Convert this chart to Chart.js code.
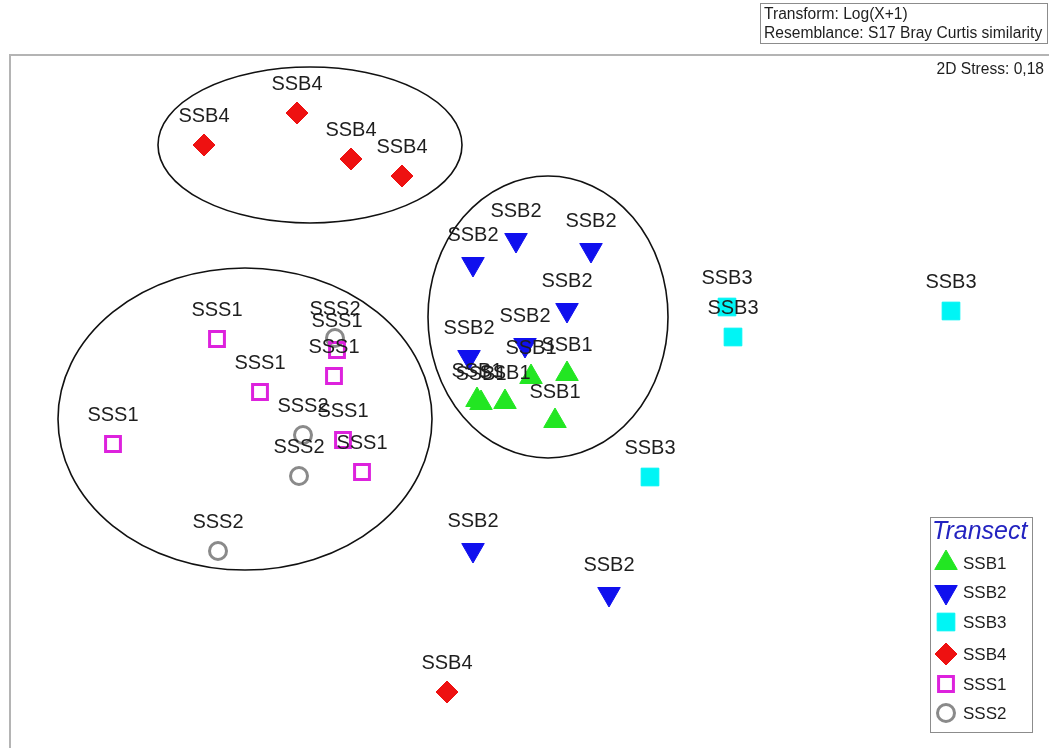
<!DOCTYPE html>
<html>
<head>
<meta charset="utf-8">
<title>nMDS - Transect</title>
<script src="https://cdn.jsdelivr.net/npm/chart.js@4.4.1/dist/chart.umd.min.js"></script>
<style>
  html, body { margin: 0; padding: 0; background: #fff; }
  #wrap { width: 1049px; height: 748px; position: relative; }
</style>
</head>
<body>
<div id="wrap"><canvas id="mds" width="1049" height="748"></canvas></div>
<script>
/* =========================================================
   DATA (nMDS coordinates)
========================================================= */
const groups = ["SSB1", "SSB2", "SSB3", "SSB4", "SSS1", "SSS2"];

const ssb1X = [0.42, 0.06, -0.20, -0.44, -0.48, 0.30];
const ssb1Y = [0.00, -0.03, -0.28, -0.29, -0.26, -0.47];

const ssb2X = [-0.09, 0.66, -0.52, 0.42, -0.56, 0.00, -0.52, 0.84];
const ssb2Y = [1.34, 1.24, 1.10, 0.64, 0.17, 0.29, -1.76, -2.20];

const ssb3X = [2.02, 2.08, 4.26, 1.25];
const ssb3Y = [0.67, 0.37, 0.63, -1.03];

const ssb4X = [-3.21, -2.28, -1.74, -1.23, -0.78];
const ssb4Y = [2.29, 2.61, 2.15, 1.98, -3.18];

const sss1X = [-3.08, -2.65, -1.88, -1.91, -1.82, -1.63, -4.12];
const sss1Y = [0.35, -0.18, 0.24, -0.02, -0.66, -0.98, -0.70];

const sss2X = [-1.90, -2.22, -2.26, -3.07];
const sss2Y = [0.36, -0.61, -1.02, -1.77];

// similarity ellipses (centre / half axes, same units)
const ellipseCX = [-2.15, 0.23, -2.80];
const ellipseCY = [2.29, 0.57, -0.45];
const ellipseRX = [1.52, 1.20, 1.87];
const ellipseRY = [0.78, 1.41, 1.51];

const xRange = [-5.25, 5.24];
const yRange = [-3.74, 3.74];

const headerLines = ["Transform: Log(X+1)", "Resemblance: S17 Bray Curtis similarity"];
const stressText = "2D Stress: 0,18";
const legendTitle = "Transect";

/* =========================================================
   STYLES
========================================================= */
const FONT = "'Liberation Sans', Arial, Helvetica, sans-serif";

const styles = {
  SSB1: { pointStyle: "triangle", radius: 13,   rotation: 0,   fill: "#22e622", stroke: "#22e622", lw: 1 },
  SSB2: { pointStyle: "triangle", radius: 13,   rotation: 180, fill: "#1010ee", stroke: "#1010ee", lw: 1 },
  SSB3: { pointStyle: "rect",     radius: 12.5, rotation: 0,   fill: "#00f5f5", stroke: "#00f5f5", lw: 1 },
  SSB4: { pointStyle: "rectRot",  radius: 11,   rotation: 0,   fill: "#ee1111", stroke: "#ee1111", lw: 1 },
  SSS1: { pointStyle: "rect",     radius: 10.5, rotation: 0,   fill: "rgba(0,0,0,0)", stroke: "#dd22dd", lw: 3 },
  SSS2: { pointStyle: "circle",   radius: 8.5,  rotation: 0,   fill: "rgba(0,0,0,0)", stroke: "#8a8a8a", lw: 3 }
};

const seriesX = { SSB1: ssb1X, SSB2: ssb2X, SSB3: ssb3X, SSB4: ssb4X, SSS1: sss1X, SSS2: sss2X };
const seriesY = { SSB1: ssb1Y, SSB2: ssb2Y, SSB3: ssb3Y, SSB4: ssb4Y, SSS1: sss1Y, SSS2: sss2Y };

function toPoints(xs, ys) {
  return xs.map((v, i) => ({ x: v, y: ys[i] }));
}

/* =========================================================
   HELPERS
========================================================= */
function drawMarker(ctx, st, x, y) {
  const r = st.radius;
  ctx.save();
  ctx.fillStyle = st.fill;
  ctx.strokeStyle = st.stroke;
  ctx.lineWidth = st.lw;
  ctx.beginPath();
  if (st.pointStyle === "triangle") {
    let rad = st.rotation * Math.PI / 180;
    ctx.moveTo(x + Math.sin(rad) * r, y - Math.cos(rad) * r);
    rad += 2 * Math.PI / 3;
    ctx.lineTo(x + Math.sin(rad) * r, y - Math.cos(rad) * r);
    rad += 2 * Math.PI / 3;
    ctx.lineTo(x + Math.sin(rad) * r, y - Math.cos(rad) * r);
    ctx.closePath();
  } else if (st.pointStyle === "rect") {
    const s = Math.SQRT1_2 * r;
    ctx.rect(x - s, y - s, 2 * s, 2 * s);
  } else if (st.pointStyle === "rectRot") {
    ctx.moveTo(x - r, y);
    ctx.lineTo(x, y - r);
    ctx.lineTo(x + r, y);
    ctx.lineTo(x, y + r);
    ctx.closePath();
  } else {
    ctx.arc(x, y, r, 0, Math.PI * 2);
  }
  ctx.fill();
  ctx.stroke();
  ctx.restore();
}

/* =========================================================
   PLUGINS
========================================================= */
const backdrop = {
  id: "backdrop",
  beforeDatasetsDraw(chart) {
    const { ctx, scales: { x, y } } = chart;
    ctx.save();

    // plot frame (only top + left visible)
    ctx.strokeStyle = "#b4b4b4";
    ctx.lineWidth = 2;
    ctx.beginPath();
    ctx.moveTo(10, 748);
    ctx.lineTo(10, 55);
    ctx.lineTo(1049, 55);
    ctx.stroke();

    // ellipses
    ctx.strokeStyle = "#111";
    ctx.lineWidth = 1.6;
    ellipseCX.forEach((cx, i) => {
      const px = x.getPixelForValue(cx);
      const py = y.getPixelForValue(ellipseCY[i]);
      const rx = Math.abs(x.getPixelForValue(cx + ellipseRX[i]) - px);
      const ry = Math.abs(y.getPixelForValue(ellipseCY[i] + ellipseRY[i]) - py);
      ctx.beginPath();
      ctx.ellipse(px, py, rx, ry, 0, 0, Math.PI * 2);
      ctx.stroke();
    });
    ctx.restore();
  }
};

const pointLabels = {
  id: "pointLabels",
  afterDatasetsDraw(chart) {
    const ctx = chart.ctx;
    ctx.save();
    ctx.font = "20px " + FONT;
    ctx.fillStyle = "#1e1e1e";
    ctx.textAlign = "center";
    ctx.textBaseline = "middle";
    chart.data.datasets.forEach((ds, di) => {
      chart.getDatasetMeta(di).data.forEach(pt => {
        ctx.fillText(ds.label, pt.x, pt.y - 29);
      });
    });
    ctx.restore();
  }
};

const annotations = {
  id: "annotations",
  afterDraw(chart) {
    const ctx = chart.ctx;
    ctx.save();

    // header box
    ctx.strokeStyle = "#8c8c8c";
    ctx.lineWidth = 1;
    ctx.strokeRect(760.5, 3.5, 287, 40);
    ctx.fillStyle = "#1e1e1e";
    ctx.font = "15.6px " + FONT;
    ctx.textAlign = "left";
    ctx.textBaseline = "middle";
    ctx.fillText(headerLines[0], 764, 15);
    ctx.fillText(headerLines[1], 764, 34);

    // stress
    ctx.textAlign = "right";
    ctx.fillText(stressText, 1044, 70);

    // legend
    ctx.strokeStyle = "#8c8c8c";
    ctx.strokeRect(930.5, 517.5, 102, 215);
    ctx.fillStyle = "#2323c0";
    ctx.font = "italic 25px " + FONT;
    ctx.textAlign = "left";
    ctx.fillText(legendTitle, 932, 532);

    const rows = [563, 592, 622, 654, 684, 713];
    ctx.font = "17px " + FONT;
    groups.forEach((g, i) => {
      drawMarker(ctx, styles[g], 946, rows[i]);
      ctx.fillStyle = "#1e1e1e";
      ctx.fillText(g, 963, rows[i] + 1);
    });
    ctx.restore();
  }
};

/* =========================================================
   CHART
========================================================= */
const datasets = groups.map(g => ({
  label: g,
  data: toPoints(seriesX[g], seriesY[g]),
  pointStyle: styles[g].pointStyle,
  pointRadius: styles[g].radius,
  rotation: styles[g].rotation,
  backgroundColor: styles[g].fill,
  borderColor: styles[g].stroke,
  borderWidth: styles[g].lw,
  showLine: false
}));

new Chart(document.getElementById("mds"), {
  type: "scatter",
  data: { datasets },
  options: {
    responsive: false,
    animation: false,
    events: [],
    layout: { padding: 0, autoPadding: false },
    plugins: {
      legend: { display: false },
      tooltip: { enabled: false }
    },
    scales: {
      x: { type: "linear", min: xRange[0], max: xRange[1], display: false },
      y: { type: "linear", min: yRange[0], max: yRange[1], display: false }
    }
  },
  plugins: [backdrop, pointLabels, annotations]
});
</script>
</body>
</html>
